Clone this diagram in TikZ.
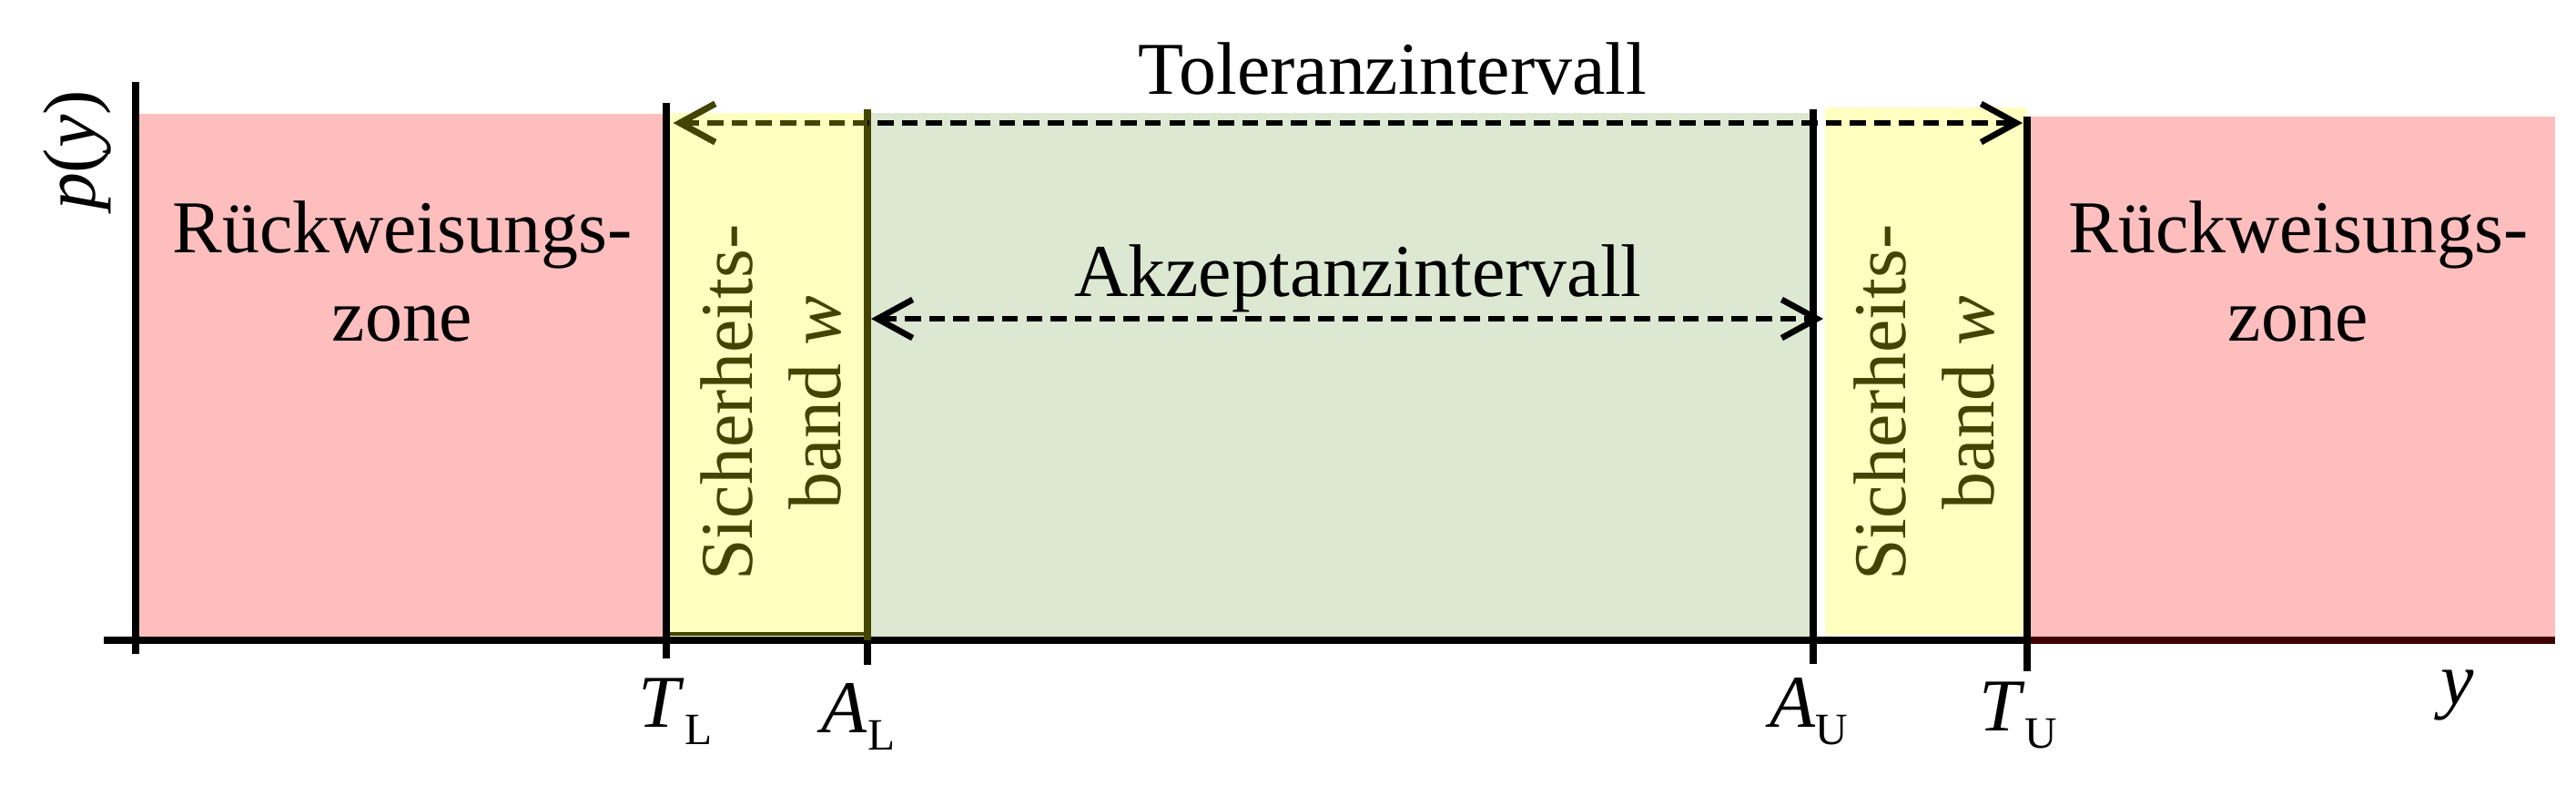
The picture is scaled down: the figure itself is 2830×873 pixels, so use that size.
\documentclass[tikz,border=0pt]{standalone}
\usepackage{fontspec}
\setmainfont{Liberation Serif}
\usepackage{xcolor}
\usetikzlibrary{arrows.meta,positioning,calc}

\definecolor{rejectred}{RGB}{255,190,190}
\definecolor{bandyellow}{RGB}{255,255,192}
\definecolor{acceptgreen}{RGB}{220,232,210}
\definecolor{bandolive}{RGB}{68,68,0}
\definecolor{axisred}{RGB}{64,0,0}

\newcommand{\lowidx}[1]{\raisebox{-5.4pt}{\fontsize{14}{14}\selectfont #1}}

\tikzset{dimtip/.tip={Straight Barb[length=11pt,width=12pt]}}

\begin{document}
\begin{tikzpicture}[x=0.1mm, y=-0.1mm,
  boundary/.style={line width=2.3pt},
  dimarrow/.style={dimtip-dimtip, line width=1.9pt, dash pattern=on 5pt off 2.6pt},
  zonetext/.style={font=\fontsize{23.3}{27.6}\selectfont, align=center, inner sep=0pt},
  bandtext/.style={zonetext, rotate=90, text=bandolive},
  ticklabel/.style={font=\fontsize{23.3}{27.6}\selectfont, inner sep=0pt, anchor=base}]

  \useasboundingbox (0,0) rectangle (2830,873);

  % zones
  \fill[rejectred]   (149,125) rectangle (732,703);
  \fill[bandyellow]  (732,124) rectangle (953,703);
  \fill[acceptgreen] (953,124) rectangle (1992,703);
  \fill[bandyellow]  (2005,118) rectangle (2227,697);
  \fill[rejectred]   (2227,128) rectangle (2807,703);

  % axes
  \coordinate (ytop) at (149,90);
  \coordinate (ybot) at (149,718);
  \coordinate (xbeg) at (114,703);
  \coordinate (xend) at (2807,703);
  \draw[boundary] (ytop) -- (ybot);
  \draw[boundary] (xbeg) -- (xend);
  \draw[boundary, axisred] (2227,703) -- (xend);

  % limits
  \coordinate (TLtop) at (732,113);  \coordinate (TLbot) at (732,723);
  \coordinate (ALtop) at (953,120);  \coordinate (ALbot) at (953,730);
  \coordinate (AUtop) at (1992,120); \coordinate (AUbot) at (1992,729);
  \coordinate (TUtop) at (2227,128); \coordinate (TUbot) at (2227,737);
  \draw[bandolive, line width=0.9pt] (732,696) -- (953,696);
  \draw[boundary, bandolive] (ALtop) -- (953,703);
  \draw[boundary] (953,703) -- (ALbot);
  \draw[boundary] (TLtop) -- (TLbot);
  \draw[boundary] (AUtop) -- (AUbot);
  \draw[boundary] (TUtop) -- (TUbot);

  % intervals
  \coordinate (tolL) at (740,135);  \coordinate (tolR) at (2222,135);
  \coordinate (accL) at (957,350);  \coordinate (accR) at (2003,350);
  \draw[dimarrow] (tolL) -- (tolR);
  \draw[dimarrow, dimtip-, bandolive] (tolL) -- (953,135);
  \draw[dimarrow] (accL) -- (accR);

  \node[zonetext, anchor=base] (toltext) at (1530,103) {Toleranzintervall};
  \node[zonetext, anchor=base] (acctext) at (1492,325) {Akzeptanzintervall};
  \node[zonetext] (rejL) at (442,298) {Rückweisungs-\\zone};
  \node[zonetext] (rejR) at (2525,298) {Rückweisungs-\\zone};
  \node[bandtext] (bandL) at (847,442) {Sicherheits-\\band \textit{w}};
  \node[bandtext] (bandR) at (2114,442) {Sicherheits-\\band \textit{w}};

  % axis labels
  \node[zonetext, rotate=90] (py) at (85,165) {\textit{p}(\textit{y})};
  \node[ticklabel] (ylab) at (2700,773) {\textit{y}};
  \node[ticklabel] (labTL) at (742,798) {\textit{T}\lowidx{L}};
  \node[ticklabel] (labAL) at (943,804) {\textit{A}\lowidx{L}};
  \node[ticklabel] (labAU) at (1987,798) {\textit{A}\lowidx{U}};
  \node[ticklabel] (labTU) at (2217,802) {\textit{T}\lowidx{U}};
\end{tikzpicture}
\end{document}
